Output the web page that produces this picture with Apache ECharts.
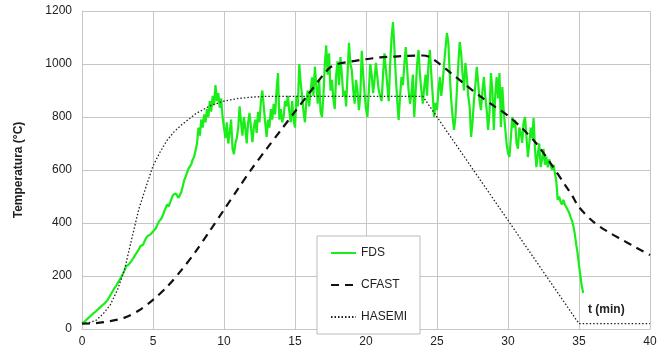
<!DOCTYPE html>
<html>
<head>
<meta charset="utf-8">
<script src="https://cdn.jsdelivr.net/npm/echarts@6/dist/echarts.min.js"></script>
<style>
  html, body { margin: 0; padding: 0; background: #fff; }
  #chart { width: 664px; height: 353px; }
</style>
</head>
<body>
<div id="chart"></div>
<script>
// FDS: sampled every 0.1 min from t = 0
var fdsStep = 0.1;
var fdsTemp = [
  20, 25, 29, 34, 39, 44, 49, 54, 59, 63,            // 0
  68, 73, 78, 83, 88, 93, 97, 102, 110, 119,         // 1
  128, 137, 146, 155, 163, 172, 181, 190, 200, 210,  // 2
  222, 236, 232, 244, 250, 258, 266, 275, 284, 292,  // 3
  300, 312, 306, 318, 330, 342, 350, 344, 356, 362,  // 4
  368, 374, 380, 392, 404, 411, 418, 430, 445, 458,  // 5
  470, 462, 478, 490, 505, 498, 512, 505, 495, 500,  // 6
  518, 540, 562, 575, 590, 605, 598, 622, 640, 650,  // 7
  650, 700, 760, 730, 790, 760, 810, 780, 830, 800,  // 8
  860, 820, 880, 845, 920, 860, 890, 835, 870, 800,  // 9
  760, 720, 780, 700, 740, 790, 680, 660, 700, 720,  // 10
  760, 840, 780, 730, 800, 760, 700, 780, 815, 760,  // 11
  705, 760, 790, 740, 820, 780, 860, 900, 840, 780,  // 12
  725, 790, 760, 830, 790, 850, 810, 900, 966, 790,  // 13
  830, 780, 800, 860, 840, 880, 820, 780, 860, 790,  // 14
  760, 880, 840, 1000, 930, 880, 820, 780, 860, 900, // 15
  840, 900, 950, 880, 990, 920, 850, 940, 820, 800,  // 16
  880, 1000, 1070, 960, 1040, 900, 940, 870, 830, 960, // 17
  1010, 920, 1026, 960, 880, 900, 840, 960, 1080, 1000, // 18
  977, 900, 850, 940, 900, 826, 880, 1050, 960, 890, // 19
  830, 800, 900, 1000, 960, 890, 940, 1004, 950, 900, // 20
  902, 860, 960, 1040, 980, 920, 860, 1000, 1100, 1158, // 21
  1060, 951, 860, 789, 880, 951, 920, 1000, 1064, 980, // 22
  900, 850, 890, 960, 800, 900, 1000, 1053, 960, 900, // 23
  850, 913, 960, 880, 1000, 1053, 960, 880, 800, 853, // 24
  826, 900, 951, 880, 930, 1000, 1060, 1117, 1080, 960, // 25
  864, 800, 751, 800, 900, 1000, 1083, 1040, 960, 900, // 26
  1004, 951, 880, 838, 725, 780, 860, 920, 989, 930, // 27
  860, 826, 900, 951, 880, 826, 751, 820, 966, 900,  // 28
  751, 880, 951, 870, 966, 762, 913, 820, 760, 700,  // 29
  664, 649, 720, 800, 760, 789, 700, 680, 760, 740,  // 30
  702, 780, 800, 725, 649, 700, 760, 720, 796, 680,  // 31
  611, 660, 700, 611, 640, 680, 620, 650, 610, 640,  // 32
  638, 600, 620, 589, 560, 487, 500, 480, 470, 487,  // 33
  470, 460, 450, 440, 423, 410, 390, 360, 320, 287,  // 34
  240, 200, 160, 136                                 // 35
];

var cfastTime = [0, 1, 2, 3, 4, 5, 6, 7, 8, 9, 10, 11, 12, 13, 14, 15, 16, 17, 17.5, 18, 19, 20, 21, 22, 23, 24, 24.5, 25, 26, 27, 28, 29, 30, 31, 32, 33, 34, 34.5, 35, 36, 37, 38, 39, 40];
var cfastTemp = [20, 22, 30, 43, 70, 110, 160, 222, 292, 370, 450, 530, 608, 680, 750, 820, 890, 960, 988, 1000, 1010, 1018, 1025, 1028, 1031, 1032, 1026, 1008, 965, 922, 880, 842, 805, 757, 700, 625, 545, 505, 460, 405, 368, 338, 308, 279];

var hasemiTime = [0, 0.5, 1, 1.5, 2, 2.5, 3, 3.5, 4, 4.5, 5, 5.5, 6, 6.5, 7, 8, 9, 10, 11, 12, 13, 24, 35, 40];
var hasemiTemp = [20, 24, 33, 58, 92, 148, 225, 340, 452, 535, 615, 668, 713, 745, 770, 812, 842, 860, 870, 875, 878, 878, 20, 20];

var xTicks = { min: 0, max: 40, interval: 5 };
var yTicks = { min: 0, max: 1200, interval: 200 };

function pairs(xs, ys) {
    var res = [];
    for (var i = 0; i < ys.length; i++) {
        res.push([xs[i], ys[i]]);
    }
    return res;
}

var fdsData = (function () {
    var res = [];
    for (var i = 0; i < fdsTemp.length; i++) {
        res.push([+(i * fdsStep).toFixed(1), fdsTemp[i]]);
    }
    return res;
})();

var textColor = '#222';
var gridColor = '#c6c6c6';
var fontFamily = 'Liberation Sans, Arial, sans-serif';

var myChart = echarts.init(document.getElementById('chart'));
myChart.setOption({
    animation: false,
    backgroundColor: '#fff',
    textStyle: { fontFamily: fontFamily },
    grid: { left: 82, right: 14, top: 11, bottom: 24, containLabel: false },
    legend: {
        orient: 'vertical',
        left: 317,
        top: 236,
        padding: [11, 13, 11, 13],
        itemWidth: 25,
        itemHeight: 10,
        itemGap: 20,
        backgroundColor: '#fff',
        borderColor: '#bbb',
        borderWidth: 1,
        // hide the symbol, keep only the line sample
        itemStyle: { opacity: 0 },
        textStyle: { color: textColor, fontSize: 12, fontFamily: fontFamily },
        data: ['FDS', 'CFAST', 'HASEMI']
    },
    xAxis: {
        type: 'value',
        min: xTicks.min,
        max: xTicks.max,
        interval: xTicks.interval,
        axisLine: { lineStyle: { color: gridColor } },
        axisTick: { show: false },
        axisLabel: { color: textColor, fontSize: 12, margin: 7 },
        splitLine: { lineStyle: { color: gridColor } }
    },
    yAxis: {
        type: 'value',
        min: yTicks.min,
        max: yTicks.max,
        interval: yTicks.interval,
        name: 'Temperatura (°C)',
        nameLocation: 'middle',
        nameGap: 57,
        nameTextStyle: { color: textColor, fontSize: 12, fontWeight: 'bold' },
        axisLine: { show: true, lineStyle: { color: gridColor } },
        axisTick: { show: false },
        axisLabel: {
            color: textColor,
            fontSize: 12,
            margin: 10,
            formatter: function (v) { return String(v); }
        },
        splitLine: { lineStyle: { color: gridColor } }
    },
    graphic: [{
        type: 'text',
        left: 588,
        top: 304,
        style: {
            text: 't (min)',
            fill: textColor,
            font: 'bold 12px ' + fontFamily
        }
    }],
    series: [
        {
            name: 'FDS',
            type: 'line',
            symbol: 'none',
            data: fdsData,
            itemStyle: { color: '#19ee19' },
            lineStyle: { color: '#19ee19', width: 2.2 }
        },
        {
            name: 'CFAST',
            type: 'line',
            symbol: 'none',
            smooth: 0.3,
            data: pairs(cfastTime, cfastTemp),
            itemStyle: { color: '#111' },
            lineStyle: { color: '#111', width: 2.2, type: [8, 6] }
        },
        {
            name: 'HASEMI',
            type: 'line',
            symbol: 'none',
            data: pairs(hasemiTime, hasemiTemp),
            itemStyle: { color: '#222' },
            lineStyle: { color: '#222', width: 1.3, type: [1.5, 2] }
        }
    ]
});
</script>
</body>
</html>
